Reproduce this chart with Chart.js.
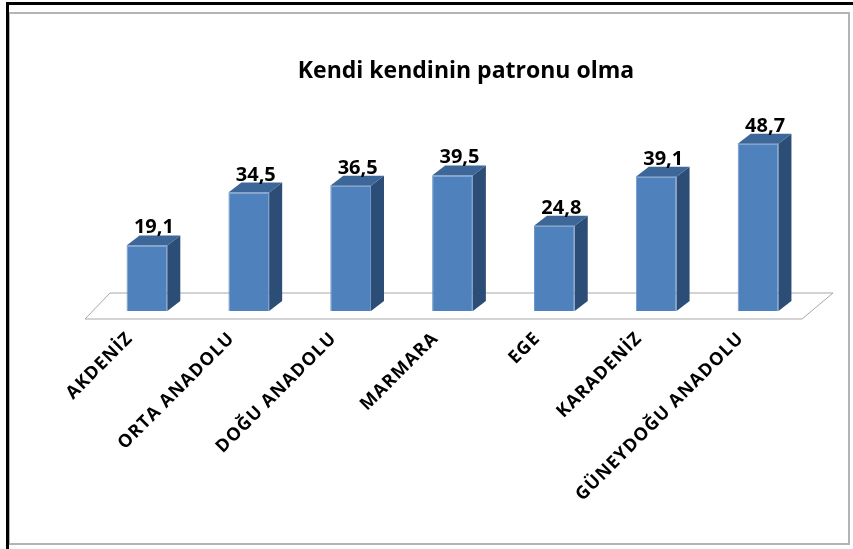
<!DOCTYPE html>
<html lang="tr">
  <head>
    <meta charset="UTF-8" />
    <title>Kendi kendinin patronu olma</title>
    <script src="https://cdn.jsdelivr.net/npm/chart.js@4.4.0/dist/chart.umd.min.js"></script>
    <style>
      body { margin: 0; background: #fff; }
      #wrap { width: 853px; height: 549px; }
    </style>
  </head>
  <body>
    <div id="wrap">
      <canvas id="myChart" width="853" height="549"></canvas>
    </div>

    <script>
      // bölgeler
      const regions = [
        "AKDENİZ",
        "ORTA ANADOLU",
        "DOĞU ANADOLU",
        "MARMARA",
        "EGE",
        "KARADENİZ",
        "GÜNEYDOĞU ANADOLU",
      ];
      // yüzde
      const values = [19.1, 34.5, 36.5, 39.5, 24.8, 39.1, 48.7];
      const titleText = "Kendi kendinin patronu olma";

      // 3d depth of the bars
      const depthX = 13;
      const depthY = 10;

      const bars3d = {
        id: "bars3d",
        beforeDraw(chart) {
          const ctx = chart.ctx;
          ctx.save();
          ctx.fillStyle = "#fff";
          ctx.fillRect(0, 0, chart.width, chart.height);
          // gray inner frame
          ctx.strokeStyle = "#b4b4b4";
          ctx.lineWidth = 2;
          ctx.strokeRect(9, 13, 840, 531);
          // black outer lines
          ctx.fillStyle = "#000";
          ctx.fillRect(6, 2, 847, 3);
          ctx.fillRect(6, 2, 3, 547);
          // title
          ctx.fillStyle = "#000";
          ctx.font = "bold 23px 'Open Sans'";
          ctx.textAlign = "center";
          ctx.textBaseline = "alphabetic";
          ctx.fillText(titleText, 466, 78);
          ctx.restore();
          // wider tick labels
          ctx.letterSpacing = "1px";
        },
        beforeDatasetsDraw(chart) {
          const ctx = chart.ctx;
          ctx.letterSpacing = "0px";
          const area = chart.chartArea;
          const base = chart.scales.y.getPixelForValue(0);
          // floor
          ctx.save();
          ctx.strokeStyle = "#a8a8a8";
          ctx.lineWidth = 1;
          ctx.beginPath();
          ctx.moveTo(area.left - 11, base + 8);
          ctx.lineTo(area.right - 7, base + 8);
          ctx.lineTo(area.right + 24, base - 18);
          ctx.lineTo(area.left + 14, base - 18);
          ctx.closePath();
          ctx.stroke();
          ctx.restore();
        },
        afterDatasetsDraw(chart) {
          const ctx = chart.ctx;
          const meta = chart.getDatasetMeta(0);
          ctx.save();
          meta.data.forEach((bar, i) => {
            const left = bar.x - bar.width / 2;
            const right = bar.x + bar.width / 2;
            // side
            ctx.fillStyle = "#2C4D75";
            ctx.beginPath();
            ctx.moveTo(right, bar.y);
            ctx.lineTo(right + depthX, bar.y - depthY);
            ctx.lineTo(right + depthX, bar.base - depthY);
            ctx.lineTo(right, bar.base);
            ctx.closePath();
            ctx.fill();
            // top
            ctx.fillStyle = "#3D6699";
            ctx.beginPath();
            ctx.moveTo(left, bar.y);
            ctx.lineTo(left + depthX, bar.y - depthY);
            ctx.lineTo(right + depthX, bar.y - depthY);
            ctx.lineTo(right, bar.y);
            ctx.closePath();
            ctx.fill();
            // value label
            ctx.fillStyle = "#000";
            ctx.font = "bold 20px 'Open Sans'";
            ctx.textAlign = "center";
            ctx.textBaseline = "alphabetic";
            ctx.fillText(String(values[i]).replace(".", ","), bar.x + 7, bar.y - 12);
          });
          ctx.restore();
        },
      };

      const ctx = document.getElementById("myChart").getContext("2d");

      const myChart = new Chart(ctx, {
        type: "bar",
        data: {
          labels: regions,
          datasets: [
            {
              label: titleText,
              data: values,
              backgroundColor: "#4F81BD",
              borderColor: "#6F98CC",
              borderWidth: 1,
              categoryPercentage: 1,
              barPercentage: 0.4,
            },
          ],
        },
        options: {
          responsive: false,
          animation: false,
          devicePixelRatio: 1,
          layout: {
            padding: { left: 96, right: 44, top: 105, bottom: 0 },
          },
          plugins: {
            legend: { display: false },
            title: { display: false },
            tooltip: { enabled: false },
          },
          scales: {
            y: {
              display: false,
              min: 0,
              max: 60,
            },
            x: {
              grid: { display: false },
              border: { display: false },
              ticks: {
                autoSkip: false,
                minRotation: 45,
                maxRotation: 45,
                padding: 9,
                labelOffset: -17,
                color: "#000",
                font: { family: "'Open Sans'", size: 18, weight: "bold" },
              },
              afterFit(scale) {
                scale.height = 238;
              },
            },
          },
        },
        plugins: [bars3d],
      });
    </script>
  </body>
</html>
